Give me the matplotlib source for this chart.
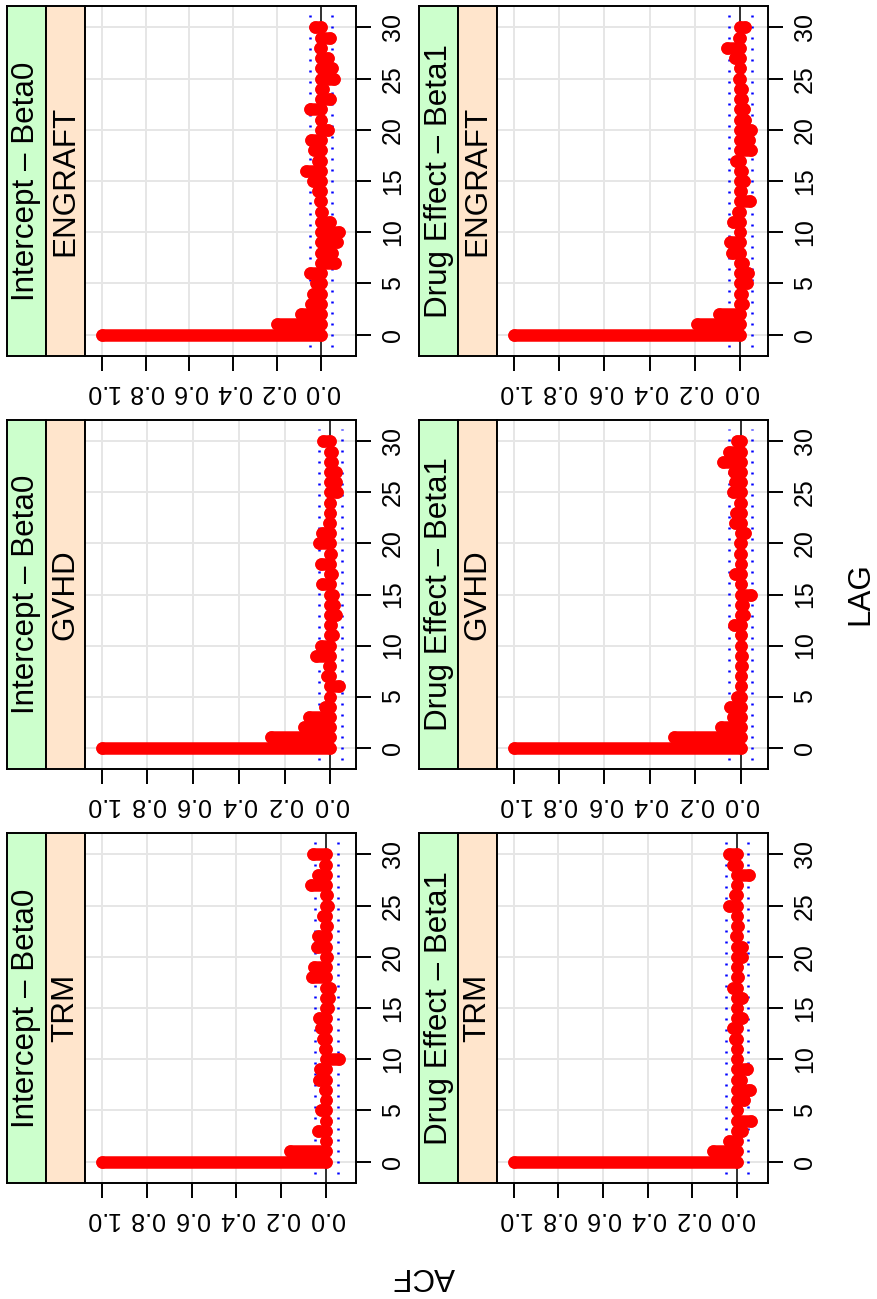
import matplotlib
matplotlib.use("Agg")
import matplotlib.pyplot as plt

plt.rcParams["font.family"] = ["Liberation Sans", "DejaVu Sans"]

# ---- data -------------------------------------------------------------
lags = list(range(31))

engraft_beta0 = [1.0, 0.200, 0.094, 0.044, 0.036, 0.022, 0.052, -0.064, -0.048, -0.070,
                 -0.083, -0.042, -0.003, 0.005, 0.014, 0.036, 0.070, 0.014, 0.033, 0.047,
                 -0.030, 0.000, 0.052, -0.042, -0.008, -0.058, -0.050, -0.030, 0.003, -0.042,
                 0.030]
engraft_beta1 = [1.0, 0.190, 0.094, -0.010, -0.006, -0.030, -0.035, -0.010, 0.035, 0.047,
                 0.000, 0.032, 0.010, -0.043, -0.003, -0.015, -0.006, 0.020, -0.049, -0.040,
                 -0.047, -0.020, -0.018, -0.007, -0.006, 0.005, 0.002, 0.025, 0.059, 0.005,
                 -0.020]
gvhd_beta0 = [1.0, 0.257, 0.115, 0.093, 0.025, 0.000, -0.040, 0.015, 0.005, 0.061,
              0.039, -0.010, -0.003, -0.025, -0.015, -0.010, 0.035, -0.006, 0.042, -0.003,
              0.050, 0.035, 0.004, 0.000, 0.000, -0.029, -0.025, -0.025, -0.006, -0.006,
              0.032]
gvhd_beta1 = [1.0, 0.294, 0.087, 0.032, 0.047, 0.015, -0.003, 0.000, -0.006, -0.006,
              0.000, -0.003, 0.030, -0.015, -0.010, -0.047, 0.000, 0.025, 0.000, 0.002,
              0.002, -0.018, 0.025, 0.020, 0.002, 0.035, 0.025, 0.030, 0.080, 0.050,
              0.015]
trm_beta0 = [1.0, 0.163, 0.002, 0.037, 0.003, 0.022, 0.000, 0.007, 0.033, 0.030,
             -0.058, 0.007, 0.015, 0.022, 0.033, -0.006, -0.013, -0.018, 0.062, 0.056,
             -0.003, 0.041, 0.037, -0.003, 0.015, -0.006, -0.003, 0.067, 0.037, 0.007,
             0.060]
trm_beta1 = [1.0, 0.107, 0.036, -0.025, -0.065, 0.000, -0.030, -0.060, -0.020, -0.045,
             0.000, 0.000, 0.010, 0.018, -0.025, 0.000, -0.025, 0.018, -0.003, 0.000,
             -0.025, -0.025, 0.003, -0.006, 0.000, 0.033, 0.010, 0.000, -0.055, 0.018,
             0.036]

outcomes = ["ENGRAFT", "GVHD", "TRM"]
parameters = ["Intercept \u2013 Beta0", "Drug Effect \u2013 Beta1"]
series = {
    ("ENGRAFT", 0): engraft_beta0, ("ENGRAFT", 1): engraft_beta1,
    ("GVHD", 0): gvhd_beta0, ("GVHD", 1): gvhd_beta1,
    ("TRM", 0): trm_beta0, ("TRM", 1): trm_beta1,
}
conf_bound = 0.05
acf_ticks = [0.0, 0.2, 0.4, 0.6, 0.8, 1.0]
acf_ticklabels = ["0.0", "0.2", "0.4", "0.6", "0.8", "1.0"]
lag_ticks = [0, 5, 10, 15, 20, 25, 30]

# ---- layout (pixels) --------------------------------------------------
W, H = 877, 1299
fig = plt.figure(figsize=(W / 100, H / 100), dpi=100)


def rect(x0, y0, x1, y1):
    return [x0 / W, 1 - y1 / H, (x1 - x0) / W, (y1 - y0) / H]


col_px = [(7, 46, 85, 356), (419, 458, 497, 768)]
row_px = [(6, 356), (420, 769), (833, 1183)]

LW = 1.4
BAR_W = 9.0
STRIP_FS = 22.6
TICK_FS = 18

for r, outcome in enumerate(outcomes):
    y0, y1 = row_px[r]
    for c, param in enumerate(parameters):
        g0, o0, p0, p1 = col_px[c]
        vals = series[(outcome, c)]

        # strips: parameter (outer) and outcome (inner)
        for (a, b), colr, label in [((g0, o0), "#CCFFCC", param),
                                    ((o0, p0), "#FFE5CC", outcome)]:
            sax = fig.add_axes(rect(a, y0, b, y1))
            sax.set_facecolor(colr)
            sax.set_xticks([])
            sax.set_yticks([])
            for sp in sax.spines.values():
                sp.set_linewidth(LW)
            sax.text(0.5, 0.5, label, rotation=90, ha="center", va="center",
                     fontsize=STRIP_FS, transform=sax.transAxes)

        ax = fig.add_axes(rect(p0, y0, p1, y1))
        lo, hi = min(vals), max(vals)
        ext = 0.07 * (hi - lo)
        ax.set_xlim(hi + ext, lo - ext)
        ax.set_ylim(-2.1, 32.1)

        ax.set_xticks(acf_ticks)
        ax.set_xticklabels(acf_ticklabels)
        ax.set_yticks(lag_ticks)
        ax.grid(True, color="#E6E6E6", linewidth=1.4, zorder=0)
        ax.set_axisbelow(True)

        ax.axvline(0, color="black", linewidth=1.1, zorder=1)
        for b in (conf_bound, -conf_bound):
            ax.plot([b, b], [-1.2, 31.2], color="blue", linewidth=1.8,
                    linestyle=(0, (0.8, 3.6)), zorder=2)

        # thick lag bars with rounded ends (ends drawn as dots so that
        # zero-length bars still show)
        for lag, v in zip(lags, vals):
            ax.plot([0, v], [lag, lag], color="red", linewidth=BAR_W,
                    solid_capstyle="round", marker="o", markersize=BAR_W,
                    markeredgewidth=0, zorder=3)

        for sp in ax.spines.values():
            sp.set_linewidth(LW)
        ax.tick_params(axis="x", bottom=True, top=False, length=10.8, width=LW,
                       pad=6.5, labelsize=TICK_FS, labelrotation=180)
        ax.tick_params(axis="y", left=False, right=True, labelleft=False,
                       labelright=True, length=10.8, width=LW, pad=7,
                       labelsize=TICK_FS, labelrotation=90)
        for lbl in ax.get_yticklabels():
            lbl.set_va("center")

fig.text(424 / W, 1 - 1276 / H, "ACF", rotation=180, ha="center", va="center",
         fontsize=STRIP_FS)
fig.text(860 / W, 1 - 594 / H, "LAG", rotation=90, ha="center", va="center",
         fontsize=STRIP_FS)

fig.savefig("out.png", dpi=100)
